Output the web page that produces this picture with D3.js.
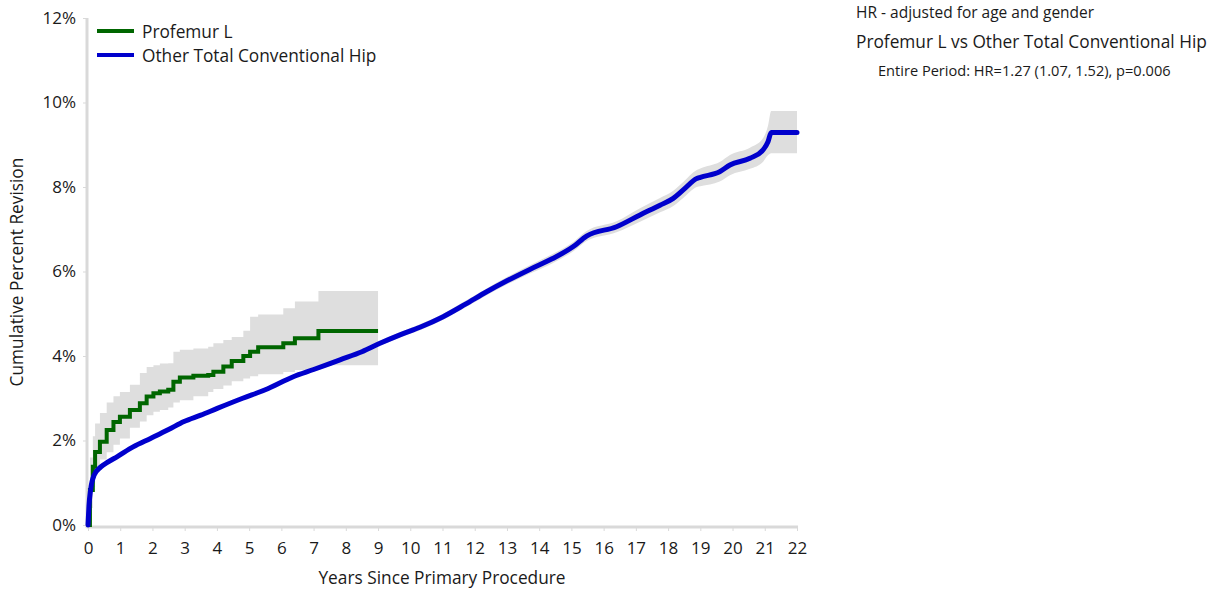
<!DOCTYPE html>
<html>
<head>
<meta charset="utf-8">
<script src="https://cdn.jsdelivr.net/npm/d3@7"></script>
<style>
	body { margin: 0; background: #fff; }
	svg text { font-family: "Open Sans", "Noto Sans", sans-serif; fill: #1a1a1a; }
</style>
</head>
<body>
<div id="chart"></div>
<script>
// Profemur L (step curve with confidence band)
const greenTime  = [0, 0.06, 0.15, 0.22, 0.37, 0.58, 0.79, 0.99, 1.30, 1.61, 1.82, 2.03, 2.23, 2.49, 2.65, 2.85, 3.27, 3.73, 3.89, 4.20, 4.46, 4.82, 5.03, 5.28, 6.06, 6.42, 7.15, 9.0];
const greenVal   = [0, 0.83, 1.38, 1.73, 1.97, 2.25, 2.44, 2.56, 2.72, 2.88, 3.04, 3.12, 3.16, 3.20, 3.39, 3.49, 3.53, 3.55, 3.63, 3.75, 3.88, 4.00, 4.10, 4.21, 4.30, 4.42, 4.59, 4.59];
const greenLower = [0, 0.40, 0.90, 1.30, 1.55, 1.72, 1.90, 2.05, 2.30, 2.45, 2.60, 2.68, 2.72, 2.78, 2.90, 2.95, 3.05, 3.15, 3.22, 3.30, 3.40, 3.47, 3.52, 3.57, 3.62, 3.67, 3.78, 3.78];
const greenUpper = [0, 1.60, 2.10, 2.40, 2.65, 2.90, 3.05, 3.15, 3.32, 3.60, 3.74, 3.78, 3.82, 3.83, 4.10, 4.15, 4.18, 4.22, 4.30, 4.38, 4.45, 4.60, 4.93, 4.98, 5.13, 5.29, 5.54, 5.54];

// Other Total Conventional Hip
const blueTime  = [0, 0.03, 0.08, 0.19, 0.39, 0.6, 0.91, 1.4, 1.94, 2.5, 2.98, 3.5, 4.01, 4.8, 5.5, 6.37, 7.0, 7.82, 8.5, 9.06, 9.68, 10.3, 11.02, 11.7, 12.37, 13.0, 13.71, 14.4, 15.06, 15.47, 16.4, 17.13, 17.75, 18.16, 18.47, 18.89, 19.0, 19.6, 19.92, 20.54, 20.95, 21.1, 21.2, 22.0];
const blueVal   = [0, 0.45, 0.83, 1.18, 1.37, 1.48, 1.62, 1.85, 2.05, 2.26, 2.45, 2.60, 2.76, 3.00, 3.20, 3.51, 3.68, 3.91, 4.10, 4.30, 4.50, 4.68, 4.93, 5.22, 5.52, 5.78, 6.05, 6.30, 6.59, 6.84, 7.06, 7.34, 7.57, 7.73, 7.93, 8.20, 8.23, 8.36, 8.52, 8.68, 8.88, 9.07, 9.29, 9.29];
const blueLower = [0, 0.43, 0.80, 1.15, 1.34, 1.45, 1.59, 1.82, 2.02, 2.23, 2.42, 2.57, 2.73, 2.97, 3.16, 3.47, 3.63, 3.86, 4.05, 4.24, 4.44, 4.61, 4.86, 5.14, 5.44, 5.69, 5.95, 6.19, 6.48, 6.72, 6.93, 7.18, 7.40, 7.55, 7.74, 8.00, 8.02, 8.13, 8.28, 8.43, 8.60, 8.75, 8.80, 8.80];
const blueUpper = [0, 0.47, 0.86, 1.21, 1.40, 1.51, 1.65, 1.88, 2.08, 2.29, 2.48, 2.63, 2.79, 3.03, 3.24, 3.55, 3.73, 3.96, 4.15, 4.36, 4.56, 4.75, 5.00, 5.30, 5.60, 5.87, 6.15, 6.41, 6.70, 6.96, 7.19, 7.50, 7.74, 7.91, 8.12, 8.40, 8.44, 8.59, 8.76, 8.93, 9.16, 9.45, 9.80, 9.80];

const xTicks = d3.range(0, 23);
const yTicks = [0, 2, 4, 6, 8, 10, 12];

const legendItems = [
	{ name: 'Profemur L', color: '#006600' },
	{ name: 'Other Total Conventional Hip', color: '#0000cc' }
];

const noteLines = [
	'HR - adjusted for age and gender',
	'Profemur L vs Other Total Conventional Hip',
	'Entire Period: HR=1.27 (1.07, 1.52), p=0.006'
];

const width = 1214, height = 589;

const svg = d3.select('#chart').append('svg')
	.attr('width', width)
	.attr('height', height);

const x = d3.scaleLinear().domain([0, 22]).range([88, 797]);
const y = d3.scaleLinear().domain([0, 12]).range([525, 18]);

const green = greenTime.map((t, i) => ({ t: t, v: greenVal[i], lo: greenLower[i], hi: greenUpper[i] }));
const blue = blueTime.map((t, i) => ({ t: t, v: blueVal[i], lo: blueLower[i], hi: blueUpper[i] }));

// confidence bands
const greenBand = d3.area()
	.curve(d3.curveStepAfter)
	.x(d => x(d.t))
	.y0(d => y(d.lo))
	.y1(d => y(d.hi));
const blueBand = d3.area()
	.curve(d3.curveMonotoneX)
	.x(d => x(d.t))
	.y0(d => y(d.lo))
	.y1(d => y(d.hi));

svg.append('path').datum(green)
	.attr('fill', '#dedede')
	.attr('d', greenBand);
svg.append('path').datum(blue)
	.attr('fill', '#dedede')
	.attr('d', blueBand);

// axes
const xAxis = svg.append('g')
	.attr('transform', 'translate(0,527)')
	.call(d3.axisBottom(x).tickValues(xTicks).tickSize(4).tickPadding(11).tickFormat(d3.format('d')));
xAxis.select('.domain').attr('stroke', '#d9d9d9').attr('stroke-width', 3).attr('d', 'M86.5,0H798');
xAxis.selectAll('.tick line').attr('stroke', '#d9d9d9');
xAxis.selectAll('.tick text').style('font-size', '17px').attr('fill', '#1a1a1a');

const yAxis = svg.append('g')
	.attr('transform', 'translate(87,0)')
	.call(d3.axisLeft(y).tickValues(yTicks).tickSize(4).tickPadding(7).tickFormat(d => d + '%'));
yAxis.select('.domain').attr('stroke', '#d9d9d9').attr('stroke-width', 3).attr('d', 'M0,18V528');
yAxis.selectAll('.tick line').attr('stroke', '#d9d9d9');
yAxis.selectAll('.tick text').style('font-size', '17px').attr('fill', '#1a1a1a');

svg.append('text')
	.attr('x', 442)
	.attr('y', 584)
	.attr('text-anchor', 'middle')
	.style('font-size', '17.3px')
	.text('Years Since Primary Procedure');

svg.append('text')
	.attr('transform', 'translate(23,272) rotate(-90)')
	.attr('text-anchor', 'middle')
	.style('font-size', '17.3px')
	.text('Cumulative Percent Revision');

// curves
const greenLine = d3.line().curve(d3.curveStepAfter).x(d => x(d.t)).y(d => y(d.v));
const blueLine = d3.line().curve(d3.curveMonotoneX).x(d => x(d.t)).y(d => y(d.v));

svg.append('path').datum(green)
	.attr('fill', 'none')
	.attr('stroke', legendItems[0].color)
	.attr('stroke-width', 4)
	.attr('d', greenLine);
svg.append('path').datum(blue)
	.attr('fill', 'none')
	.attr('stroke', legendItems[1].color)
	.attr('stroke-width', 5)
	.attr('stroke-linejoin', 'round')
	.attr('stroke-linecap', 'round')
	.attr('d', blueLine);

// legend
const lg = svg.append('g').attr('transform', 'translate(97,31)');
const li = lg.selectAll('g').data(legendItems).enter().append('g')
	.attr('transform', (d, i) => 'translate(0,' + (i * 24) + ')');
li.append('line')
	.attr('x1', 0).attr('x2', 37)
	.attr('stroke', d => d.color)
	.attr('stroke-width', 4);
li.append('text')
	.attr('x', 45)
	.attr('y', 7)
	.style('font-size', '17.3px')
	.text(d => d.name);

// hazard ratio note
svg.append('text').attr('x', 856).attr('y', 18).style('font-size', '15.5px').text(noteLines[0]);
svg.append('text').attr('x', 856).attr('y', 48).style('font-size', '17.3px').text(noteLines[1]);
svg.append('text').attr('x', 878).attr('y', 76).style('font-size', '14.6px').text(noteLines[2]);
</script>
</body>
</html>
